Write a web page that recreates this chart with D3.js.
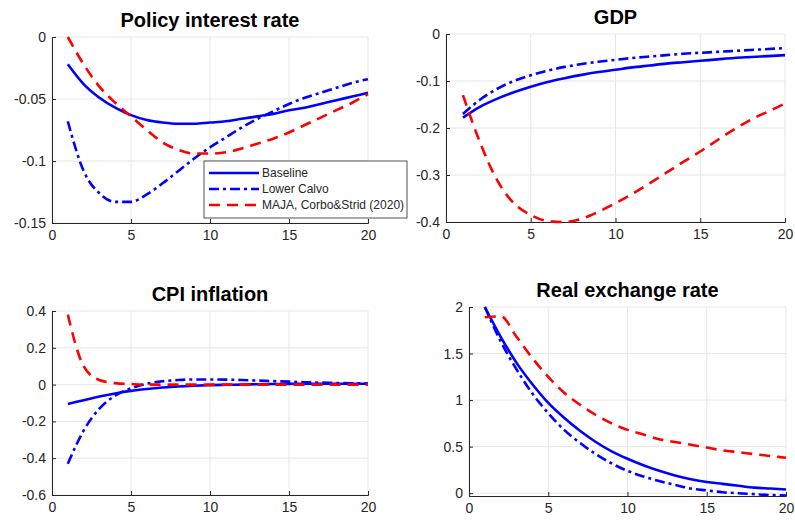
<!DOCTYPE html>
<html><head><meta charset="utf-8">
<script src="https://cdn.jsdelivr.net/npm/d3@7"></script>
<style>body{margin:0;background:#fff;font-family:"Liberation Sans",Arial,sans-serif}</style>
</head><body><svg id="c" width="795" height="523"></svg>
<script>
let periods = d3.range(1, 21);

let policyBaseline = [-0.022,-0.038,-0.049,-0.057,-0.063,-0.067,-0.069,-0.070,-0.070,-0.069,-0.068,-0.066,-0.064,-0.062,-0.059,-0.057,-0.054,-0.051,-0.048,-0.045];
let policyCalvo = [-0.068,-0.108,-0.126,-0.133,-0.133,-0.127,-0.118,-0.108,-0.098,-0.089,-0.081,-0.073,-0.066,-0.060,-0.054,-0.049,-0.045,-0.041,-0.037,-0.034];
let policyMaja = [0.0,-0.022,-0.040,-0.053,-0.064,-0.075,-0.085,-0.091,-0.094,-0.094,-0.093,-0.090,-0.086,-0.082,-0.077,-0.071,-0.065,-0.059,-0.053,-0.046];

let gdpBaseline = [-0.178,-0.155,-0.138,-0.124,-0.112,-0.102,-0.094,-0.087,-0.081,-0.076,-0.071,-0.067,-0.063,-0.060,-0.057,-0.054,-0.051,-0.049,-0.047,-0.045];
let gdpCalvo = [-0.170,-0.140,-0.117,-0.100,-0.088,-0.078,-0.070,-0.064,-0.059,-0.055,-0.051,-0.048,-0.045,-0.042,-0.040,-0.038,-0.036,-0.034,-0.032,-0.030];
let gdpMaja = [-0.13,-0.23,-0.31,-0.36,-0.385,-0.398,-0.40,-0.393,-0.378,-0.36,-0.34,-0.318,-0.295,-0.272,-0.25,-0.226,-0.203,-0.182,-0.165,-0.148];

let cpiBaseline = [-0.105,-0.085,-0.065,-0.048,-0.034,-0.024,-0.016,-0.010,-0.006,-0.003,-0.001,0,0.002,0.003,0.004,0.005,0.005,0.005,0.005,0.005];
let cpiCalvo = [-0.43,-0.25,-0.13,-0.06,-0.02,0.005,0.018,0.025,0.028,0.028,0.027,0.025,0.022,0.019,0.016,0.013,0.011,0.009,0.007,0.006];
let cpiMaja = [0.38,0.10,0.025,0.008,0.003,0,0,0,0,0,0,0,0,0,0,0,0,0,0,0];

let rerBaseline = [2.0,1.68,1.40,1.17,0.97,0.81,0.67,0.55,0.45,0.37,0.30,0.24,0.19,0.15,0.12,0.10,0.08,0.06,0.05,0.04];
let rerCalvo = [2.0,1.63,1.33,1.07,0.86,0.68,0.54,0.42,0.32,0.24,0.18,0.13,0.09,0.05,0.03,0.01,0,-0.01,-0.02,-0.025];
let rerMaja = [1.89,1.90,1.68,1.45,1.25,1.08,0.95,0.84,0.75,0.68,0.63,0.58,0.55,0.52,0.49,0.46,0.44,0.42,0.40,0.38];

let seriesNames = ["Baseline", "Lower Calvo", "MAJA, Corbo&Strid (2020)"];
let xTicks = [0, 5, 10, 15, 20];

let panels = [
    { title: "Policy interest rate", data: [policyBaseline, policyCalvo, policyMaja], y: [-0.15, 0], yt: [-0.15, -0.1, -0.05, 0], box: [52, 37, 368, 223], legend: true },
    { title: "GDP", data: [gdpBaseline, gdpCalvo, gdpMaja], y: [-0.4, 0], yt: [-0.4, -0.3, -0.2, -0.1, 0], box: [446, 34, 785, 222] },
    { title: "CPI inflation", data: [cpiBaseline, cpiCalvo, cpiMaja], y: [-0.6, 0.4], yt: [-0.6, -0.4, -0.2, 0, 0.2, 0.4], box: [52, 311, 368, 495] },
    { title: "Real exchange rate", data: [rerBaseline, rerCalvo, rerMaja], y: [-0.03, 2], yt: [0, 0.5, 1, 1.5, 2], box: [469, 307, 786, 496] }
];

let styles = [
    { color: "#0000ff", dash: null },
    { color: "#0000ff", dash: "10,4,3,4" },
    { color: "#ff0000", dash: "11,7" }
];

let svg = d3.select("#c");

panels.forEach(function (p) {
    let [x0, y0, x1, y1] = p.box;
    let x = d3.scaleLinear().domain([0, 20]).range([x0, x1]);
    let y = d3.scaleLinear().domain(p.y).range([y1, y0]);
    let g = svg.append("g");

    // grid
    g.selectAll(".gx").data(xTicks).enter().append("line")
        .attr("x1", d => x(d)).attr("x2", d => x(d)).attr("y1", y0).attr("y2", y1)
        .attr("stroke", "#e6e6e6");
    g.selectAll(".gy").data(p.yt).enter().append("line")
        .attr("y1", d => y(d)).attr("y2", d => y(d)).attr("x1", x0).attr("x2", x1)
        .attr("stroke", "#e6e6e6");

    let xa = g.append("g").attr("transform", `translate(0,${y1})`)
        .call(d3.axisBottom(x).tickValues(xTicks).tickSize(-4).tickPadding(7).tickFormat(d3.format("d")));
    let ya = g.append("g").attr("transform", `translate(${x0},0)`)
        .call(d3.axisLeft(y).tickValues(p.yt).tickSize(-4).tickPadding(6).tickFormat(d => String(d)));
    [xa, ya].forEach(a => {
        a.attr("font-size", null);
        a.select(".domain").attr("stroke", "#262626");
        a.selectAll(".tick line").attr("stroke", "#262626");
        a.selectAll("text").style("font-size", "14px").attr("fill", "#262626")
            .style("font-family", "Liberation Sans, Arial, sans-serif");
    });

    g.append("text").attr("x", (x0 + x1) / 2).attr("y", y0 - 10)
        .attr("text-anchor", "middle").attr("font-weight", "bold").attr("font-size", 20)
        .text(p.title);

    let line = d3.line().x((d, i) => x(periods[i])).y(d => y(d)).curve(d3.curveMonotoneX);
    p.data.forEach(function (s, k) {
        g.append("path").datum(s).attr("d", line).attr("fill", "none")
            .attr("stroke", styles[k].color).attr("stroke-width", 2.6)
            .attr("stroke-dasharray", styles[k].dash);
    });

    if (p.legend) {
        let lg = svg.append("g").attr("transform", "translate(204,161)");
        lg.append("rect").attr("width", 203).attr("height", 57)
            .attr("fill", "#fff").attr("stroke", "#262626").attr("stroke-width", 0.8);
        seriesNames.forEach(function (n, k) {
            let yy = 12 + k * 16;
            lg.append("line").attr("x1", 5).attr("x2", 55).attr("y1", yy).attr("y2", yy)
                .attr("stroke", styles[k].color).attr("stroke-width", 2.6)
                .attr("stroke-dasharray", styles[k].dash);
            lg.append("text").attr("x", 58).attr("y", yy + 4).attr("font-size", 12)
                .attr("fill", "#262626").text(n);
        });
    }
});
</script></body></html>
